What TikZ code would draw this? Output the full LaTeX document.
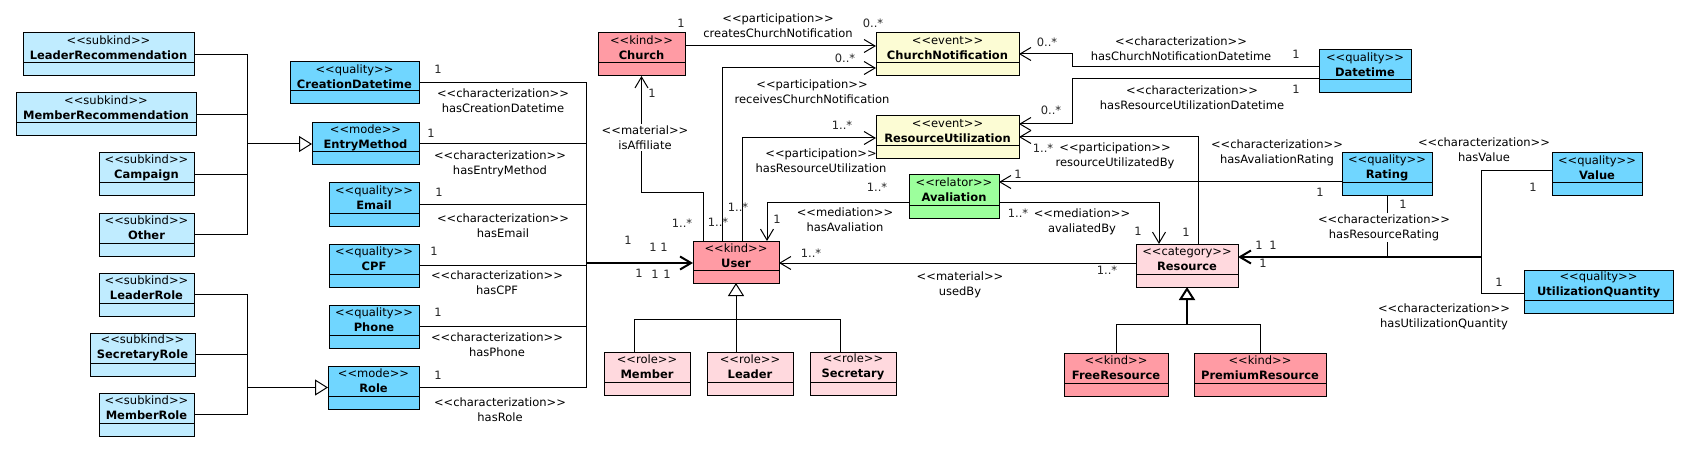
\documentclass[tikz,border=0pt]{standalone}
\usepackage{fontspec}
\setmainfont{DejaVu Sans}
\usetikzlibrary{arrows.meta,calc}
\definecolor{csub}{HTML}{C0ECFF}
\definecolor{cqual}{HTML}{70D6FF}
\definecolor{ckind}{HTML}{FF9BA4}
\definecolor{crole}{HTML}{FFD9DE}
\definecolor{cevent}{HTML}{FCFCD4}
\definecolor{crel}{HTML}{9CFF9C}
\newcommand{\stt}[1]{<\kern0pt<#1>\kern0pt>}
\tikzset{
  cls/.style={draw=black, line width=1pt, inner sep=0pt, outer sep=0pt},
  boxtext/.style={font=\fontsize{11.5}{14.7}\selectfont, align=center, inner sep=0pt},
  lbl/.style={font=\fontsize{11.5}{14.7}\selectfont, align=center, inner sep=0pt},
  wlbl/.style={lbl, fill=white, inner sep=1.5pt},
  mult/.style={font=\fontsize{11.5}{14}\selectfont, inner sep=0pt, text=black!85},
  conn/.style={draw=black, line width=1pt},
  assoc/.style={conn, -{Straight Barb[length=11pt,width=13pt]}},
  assocbold/.style={conn, line width=2pt, -{Straight Barb[length=11pt,width=13pt]}},
  gen/.style={conn, -{Triangle[length=13pt,width=16pt,fill=white]}},
}
\newcommand{\umlbox}[8]{%
  \node[cls, fill=#6, minimum width={#4pt-#2pt}, minimum height={#5pt-#3pt}] (#1) at ({(#2+#4)/2},{(#3+#5)/2}) {};
  \draw[line width=1pt] ($(#1.south west)+(0,-13)$) -- ($(#1.south east)+(0,-13)$);
  \node[boxtext] (#1-t) at ($(#1.north)+(0,14.8)$) {\stt{#7}\\\textbf{#8}};
}
\begin{document}
\begin{tikzpicture}[x=1pt,y=-1pt]
\fill[white] (0,0) rectangle (1688,449);
\useasboundingbox (0,0) rectangle (1688,449);

% boxes
\umlbox{LR}{23}{33}{194}{76}{csub}{subkind}{LeaderRecommendation}
\umlbox{MR}{16}{93}{196}{136}{csub}{subkind}{MemberRecommendation}
\umlbox{Camp}{99}{153}{194}{196}{csub}{subkind}{Campaign}
\umlbox{Oth}{99}{213}{194}{256}{csub}{subkind}{Other}
\umlbox{LRo}{99}{273}{194}{316}{csub}{subkind}{LeaderRole}
\umlbox{SRo}{90}{333}{195}{376}{csub}{subkind}{SecretaryRole}
\umlbox{MRo}{99}{393}{194}{436}{csub}{subkind}{MemberRole}
\umlbox{CD}{290}{62}{419}{104}{cqual}{quality}{CreationDatetime}
\umlbox{EM}{312}{123}{419}{165}{cqual}{mode}{EntryMethod}
\umlbox{Em}{329}{183}{419}{226}{cqual}{quality}{Email}
\umlbox{CPF}{329}{244}{419}{287}{cqual}{quality}{CPF}
\umlbox{Ph}{329}{305}{419}{348}{cqual}{quality}{Phone}
\umlbox{Ro}{328}{366}{419}{409}{cqual}{mode}{Role}
\umlbox{Ch}{598}{33}{685}{76}{ckind}{kind}{Church}
\umlbox{U}{693}{241}{779}{283}{ckind}{kind}{User}
\umlbox{Mem}{604}{352}{690}{395}{crole}{role}{Member}
\umlbox{Lea}{707}{352}{793}{395}{crole}{role}{Leader}
\umlbox{Sec}{810}{352}{896}{395}{crole}{role}{Secretary}
\umlbox{CN}{876}{33}{1019}{76}{cevent}{event}{ChurchNotification}
\umlbox{RU}{876}{116}{1019}{159}{cevent}{event}{ResourceUtilization}
\umlbox{Av}{909}{175}{999}{218}{crel}{relator}{Avaliation}
\umlbox{Res}{1136}{244}{1238}{287}{crole}{category}{Resource}
\umlbox{FR}{1064}{353}{1168}{396}{ckind}{kind}{FreeResource}
\umlbox{PR}{1194}{353}{1326}{396}{ckind}{kind}{PremiumResource}
\umlbox{DT}{1319}{50}{1411}{93}{cqual}{quality}{Datetime}
\umlbox{Rat}{1342}{153}{1432}{196}{cqual}{quality}{Rating}
\umlbox{Val}{1552}{153}{1642}{196}{cqual}{quality}{Value}
\umlbox{UQ}{1524}{270}{1673}{313}{cqual}{quality}{UtilizationQuantity}

% junctions
\coordinate (gE) at ($(EM.west)+(-65,0)$);
\coordinate (gR) at ($(Ro.west)+(-81,0)$);
\coordinate (gU) at ($(U.south)+(0,36)$);
\coordinate (gRes) at ($(Res.south)+(0,37)$);
\coordinate (jU) at ($(U.north west)+(-107,22)$);
\coordinate (jR) at ($(Res.north east)+(243,13)$);

% generalizations
\foreach \c in {LR,MR,Camp,Oth} \draw[conn] (\c.east) -| (gE);
\draw[gen] (gE) -- (EM.west);
\foreach \c in {LRo,SRo,MRo} \draw[conn] (\c.east) -| (gR);
\draw[gen] (gR) -- (Ro.west);
\draw[conn] ($(Mem.north)+(-13,0)$) |- (gU);
\draw[conn] (Lea.north -| gU) -- (gU);
\draw[conn] ($(Sec.north)+(-13,0)$) |- (gU);
\draw[gen] (gU) -- (U.south);
\draw[conn] (FR.north) |- (gRes);
\draw[conn] (PR.north) |- (gRes);
\draw[gen, line width=2pt] (gRes) -- (Res.south);

% characterizations to User
\foreach \c in {CD,EM,Em,CPF,Ph,Ro} \draw[conn] (\c.east) -| (jU);
\draw[assocbold] (jU) -- (U.west |- jU);

% associations
\draw[assoc] ($(Ch.north east)+(0,13)$) -- ($(CN.north west)+(0,13)$);
\draw[assoc] ($(U.north west)+(29,0)$) |- ($(CN.north west)+(0,35)$);
\draw[assoc] ($(U.north west)+(49,0)$) |- ($(RU.north west)+(0,22)$);
\draw[assoc] ($(U.north west)+(10,0)$) |- ($(Ch.south)+(0,117)$) -- (Ch.south);
\draw[assoc] ($(Av.north west)+(0,27)$) -| ($(U.north west)+(74,0)$);
\draw[assoc] ($(Av.north east)+(0,27)$) -| ($(Res.north west)+(23,0)$);
\draw[assoc] ($(Res.north west)+(0,19)$) -- ($(U.north east)+(0,22)$);
\draw[assoc] ($(Res.north west)+(62,0)$) |- ($(RU.north east)+(0,21)$);
\draw[assoc] ($(DT.north west)+(0,17)$) -| ($(CN.north east)+(53,21)$) -- ($(CN.north east)+(0,21)$);
\draw[assoc] ($(DT.north west)+(0,29)$) -| ($(RU.north east)+(53,8)$) -- ($(RU.north east)+(0,8)$);
\draw[assoc] ($(Rat.north west)+(0,29)$) -- ($(Av.north east)+(0,7)$);
\draw[conn] (Rat.south) -- (Rat.south |- jR);
\draw[conn] ($(Val.north west)+(0,18)$) -| (jR);
\draw[conn] ($(UQ.north west)+(0,23)$) -| (jR);
\draw[assocbold] (jR) -- (Res.east |- jR);

% connector labels
\node[lbl] (l1) at (503,100.5) {\stt{characterization}\\hasCreationDatetime};
\node[lbl] (l2) at (500,163.5) {\stt{characterization}\\hasEntryMethod};
\node[lbl] (l3) at (503,225.5) {\stt{characterization}\\hasEmail};
\node[lbl] (l4) at (497,283) {\stt{characterization}\\hasCPF};
\node[lbl] (l5) at (497,344.5) {\stt{characterization}\\hasPhone};
\node[lbl] (l6) at (500,409.5) {\stt{characterization}\\hasRole};
\node[lbl] (l7) at (778,25.5) {\stt{participation}\\createsChurchNotification};
\node[lbl] (l8) at (812,91.5) {\stt{participation}\\receivesChurchNotification};
\node[lbl] (l9) at (821,161) {\stt{participation}\\hasResourceUtilization};
\node[wlbl] (l10) at (645,137.5) {\stt{material}\\isAffiliate};
\node[lbl] (l11) at (845,219.5) {\stt{mediation}\\hasAvaliation};
\node[lbl] (l12) at (1181,48.5) {\stt{characterization}\\hasChurchNotificationDatetime};
\node[lbl] (l13) at (1192,97.5) {\stt{characterization}\\hasResourceUtilizationDatetime};
\node[lbl] (l14) at (1115,155.5) {\stt{participation}\\resourceUtilizatedBy};
\node[lbl] (l15) at (1082,221.5) {\stt{mediation}\\avaliatedBy};
\node[lbl] (l16) at (960,284.5) {\stt{material}\\usedBy};
\node[lbl] (l17) at (1277,152.5) {\stt{characterization}\\hasAvaliationRating};
\node[wlbl] (l18) at (1384,227.5) {\stt{characterization}\\hasResourceRating};
\node[lbl] (l19) at (1484,149.5) {\stt{characterization}\\hasValue};
\node[lbl] (l20) at (1444,316.5) {\stt{characterization}\\hasUtilizationQuantity};

% multiplicities
\node[mult] (m1) at (438,69) {1};
\node[mult] (m2) at (431,133) {1};
\node[mult] (m3) at (439,192) {1};
\node[mult] (m4) at (434,251) {1};
\node[mult] (m5) at (438,312) {1};
\node[mult] (m6) at (438,375) {1};
\node[mult] (m7) at (628,240) {1};
\node[mult] (m8) at (653,247) {1};
\node[mult] (m9) at (664,247) {1};
\node[mult] (m10) at (639,273) {1};
\node[mult] (m11) at (655,274) {1};
\node[mult] (m12) at (667,274) {1};
\node[mult] (m13) at (681,23) {1};
\node[mult] (m14) at (873,23) {0..*};
\node[mult] (m15) at (845,58) {0..*};
\node[mult] (m16) at (652,93) {1};
\node[mult] (m17) at (682,223) {1..*};
\node[mult] (m18) at (718,222) {1..*};
\node[mult] (m19) at (738,207) {1..*};
\node[mult] (m20) at (842,125) {1..*};
\node[mult] (m21) at (877,187) {1..*};
\node[mult] (m22) at (777,219) {1};
\node[mult] (m23) at (811,253) {1..*};
\node[mult] (m24) at (1047,42) {0..*};
\node[mult] (m25) at (1051,110) {0..*};
\node[mult] (m26) at (1043,148) {1..*};
\node[mult] (m27) at (1018,174) {1};
\node[mult] (m28) at (1018,213) {1..*};
\node[mult] (m29) at (1138,231) {1};
\node[mult] (m30) at (1186,232) {1};
\node[mult] (m31) at (1107,270) {1..*};
\node[mult] (m32) at (1259,245) {1};
\node[mult] (m33) at (1273,245) {1};
\node[mult] (m34) at (1263,263) {1};
\node[mult] (m35) at (1320,192) {1};
\node[mult] (m36) at (1403,204) {1};
\node[mult] (m37) at (1296,54) {1};
\node[mult] (m38) at (1296,89) {1};
\node[mult] (m39) at (1533,187) {1};
\node[mult] (m40) at (1499,282) {1};
\end{tikzpicture}
\end{document}
